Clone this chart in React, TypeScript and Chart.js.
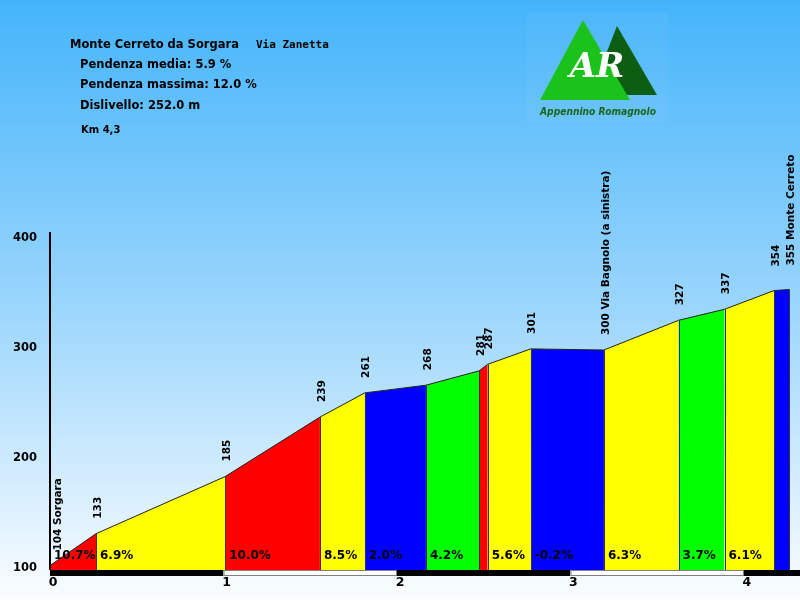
import React, { useEffect, useRef } from "react";
import { Chart, registerables } from "chart.js";

Chart.register(...registerables);

// ---- data ----
const distancesKm = [0, 0.265, 1.01, 1.556, 1.814, 2.167, 2.473, 2.523, 2.771, 3.193, 3.623, 3.888, 4.173, 4.261];
const elevations = [104, 133, 185, 239, 261, 268, 281, 287, 301, 300, 327, 337, 354, 355];
const pointNames = ["Sorgara", "", "", "", "", "", "", "", "", "Via Bagnolo (a sinistra)", "", "", "", "Monte Cerreto"];
const gradients = [10.7, 6.9, 10.0, 8.5, 2.0, 4.2, 12.0, 5.6, -0.2, 6.3, 3.7, 6.1, 1.1];
const yTicks = [100, 200, 300, 400];
const xTicks = [0, 1, 2, 3, 4];
const title = "Monte Cerreto da Sorgara";
const subtitle = "Via Zanetta";
const infoLines = ["Pendenza media: 5.9 %", "Pendenza massima: 12.0 %", "Dislivello: 252.0 m"];
const kmLabel = "Km 4,3";

function gradColor(g: number) {
  if (g >= 9) return "#ff0000";
  if (g >= 5) return "#ffff00";
  if (g >= 3) return "#00ff00";
  return "#0000ff";
}

const decorPlugin = {
  id: "decor",
  beforeDraw(chart: any) {
    const { ctx, width, height } = chart;
    ctx.save();
    const g = ctx.createLinearGradient(0, 0, 0, height);
    g.addColorStop(0, "#44b4fa");
    g.addColorStop(0.5, "#99d5fc");
    g.addColorStop(1, "#fbfdff");
    ctx.fillStyle = g;
    ctx.fillRect(0, 0, width, height);

    // title block
    ctx.fillStyle = "#000";
    ctx.textBaseline = "middle";
    ctx.textAlign = "left";
    ctx.font = "bold 11.5px 'DejaVu Sans'";
    ctx.fillText(title, 70, 45);
    ctx.font = "bold 11px 'DejaVu Sans Mono'";
    ctx.fillText(subtitle, 256, 45);
    ctx.font = "bold 11.5px 'DejaVu Sans'";
    const ys = [65, 85, 106];
    infoLines.forEach((t, i) => ctx.fillText(t, 80, ys[i]));
    ctx.font = "bold 10px 'DejaVu Sans'";
    ctx.fillText(kmLabel, 81, 130);

    // logo
    ctx.fillStyle = "rgba(255,255,255,0.04)";
    ctx.fillRect(527, 12, 141, 110);
    ctx.fillStyle = "#0b5e12";
    ctx.beginPath();
    ctx.moveTo(617, 26);
    ctx.lineTo(657, 95);
    ctx.lineTo(590, 95);
    ctx.closePath();
    ctx.fill();
    ctx.fillStyle = "#1cc21c";
    ctx.beginPath();
    ctx.moveTo(583, 20);
    ctx.lineTo(630, 100);
    ctx.lineTo(540, 100);
    ctx.closePath();
    ctx.fill();
    ctx.fillStyle = "#ffffff";
    ctx.textAlign = "center";
    ctx.font = "bold italic 34px 'DejaVu Serif'";
    ctx.fillText("AR", 597, 68);
    ctx.fillStyle = "#17661a";
    ctx.font = "bold italic 10px 'DejaVu Sans'";
    ctx.fillText("Appennino Romagnolo", 598, 112, 116);
    ctx.restore();
  },
  afterDatasetsDraw(chart: any) {
    const { ctx, scales, chartArea, width } = chart;
    const xs = scales.x;
    const ysc = scales.y;
    const bottom = chartArea.bottom;
    ctx.save();

    // segment separators
    ctx.strokeStyle = "#333";
    ctx.lineWidth = 1;
    for (let i = 1; i < distancesKm.length; i++) {
      const px = Math.round(xs.getPixelForValue(distancesKm[i])) + 0.5;
      ctx.beginPath();
      ctx.moveTo(px, ysc.getPixelForValue(elevations[i]));
      ctx.lineTo(px, bottom);
      ctx.stroke();
    }

    // gradient labels
    ctx.fillStyle = "#000";
    ctx.font = "bold 12px 'DejaVu Sans'";
    ctx.textAlign = "left";
    ctx.textBaseline = "middle";
    for (let i = 0; i < gradients.length; i++) {
      const x0 = xs.getPixelForValue(distancesKm[i]);
      const x1 = xs.getPixelForValue(distancesKm[i + 1]);
      if (x1 - x0 < 30) continue;
      ctx.fillText(gradients[i].toFixed(1) + "%", x0 + 4, 556);
    }

    // elevation labels
    ctx.font = "bold 10.5px 'DejaVu Sans'";
    const n = elevations.length;
    for (let i = 0; i < n; i++) {
      const px = xs.getPixelForValue(distancesKm[i]) + (i === 0 ? 8 : 2);
      const py = ysc.getPixelForValue(elevations[i]);
      const gap = i >= n - 2 ? 24 : 15;
      const text = String(elevations[i]) + (pointNames[i] ? " " + pointNames[i] : "");
      ctx.save();
      ctx.translate(px, py - gap);
      ctx.rotate(-Math.PI / 2);
      ctx.textAlign = "left";
      ctx.textBaseline = "middle";
      ctx.fillText(text, 0, 0);
      ctx.restore();
    }

    // y axis
    ctx.strokeStyle = "#000";
    ctx.lineWidth = 2;
    ctx.beginPath();
    ctx.moveTo(50, 232);
    ctx.lineTo(50, bottom);
    ctx.stroke();
    ctx.font = "bold 11.5px 'DejaVu Sans'";
    ctx.textAlign = "right";
    ctx.textBaseline = "middle";
    yTicks.forEach((v) => ctx.fillText(String(v), 37, ysc.getPixelForValue(v) - 2));

    // x axis bar
    for (let k = 0; k < xTicks.length; k++) {
      const a = xs.getPixelForValue(xTicks[k]);
      const b = k + 1 < xTicks.length ? xs.getPixelForValue(xTicks[k + 1]) : width;
      if (k % 2 === 0) {
        ctx.fillStyle = "#000";
        ctx.fillRect(a, bottom, b - a, 6);
      } else {
        ctx.fillStyle = "#fff";
        ctx.fillRect(a, bottom, b - a, 6);
        ctx.strokeStyle = "#808080";
        ctx.lineWidth = 1;
        ctx.strokeRect(a + 0.5, bottom + 0.5, b - a - 1, 5);
      }
    }
    ctx.fillStyle = "#000";
    ctx.font = "bold 12.5px 'DejaVu Sans'";
    ctx.textAlign = "center";
    xTicks.forEach((v) => ctx.fillText(String(v), xs.getPixelForValue(v) + 3, 583));
    ctx.restore();
  },
};

export default function App() {
  const ref = useRef<HTMLCanvasElement | null>(null);
  useEffect(() => {
    if (!ref.current) return;
    const datasets = gradients.map((g, i) => ({
      data: [
        { x: distancesKm[i], y: elevations[i] },
        { x: distancesKm[i + 1], y: elevations[i + 1] },
      ],
      backgroundColor: gradColor(g),
      borderColor: "#222",
      borderWidth: 1,
      fill: "start",
      pointRadius: 0,
      tension: 0,
    }));
    const chart = new Chart(ref.current, {
      type: "line",
      data: { datasets } as any,
      options: {
        animation: false,
        responsive: false,
        layout: { padding: { left: 50, right: 4, top: 240, bottom: 30 } },
        plugins: { legend: { display: false }, tooltip: { enabled: false } },
        scales: {
          x: { type: "linear", min: 0, max: 4.3, display: false },
          y: { type: "linear", min: 100, max: 400, display: false },
        },
      },
      plugins: [decorPlugin],
    });
    return () => chart.destroy();
  }, []);
  return (
    <div style={{ position: "absolute", left: 0, top: 0, width: 800, height: 600 }}>
      <canvas ref={ref} width={800} height={600} />
    </div>
  );
}
